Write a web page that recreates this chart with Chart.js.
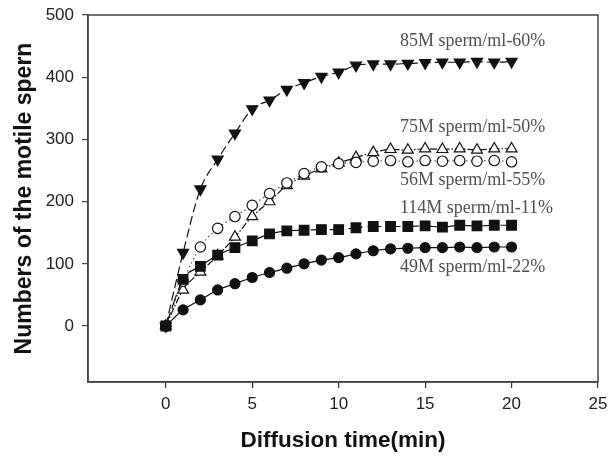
<!DOCTYPE html>
<html>
<head>
<meta charset="utf-8">
<script src="https://cdn.jsdelivr.net/npm/chart.js@4/dist/chart.umd.min.js"></script>
<style>
  html, body { margin: 0; padding: 0; background: #fff; }
  #wrap { width: 608px; height: 457px; }
</style>
</head>
<body>
<div id="wrap"><canvas id="chart"></canvas></div>
<script>
// diffusion time (min)
const times = [0, 1, 2, 3, 4, 5, 6, 7, 8, 9, 10, 11, 12, 13, 14, 15, 16, 17, 18, 19, 20];

// motile sperm counts per sample
const s85 = [0, 118, 220, 268, 310, 349, 363, 380, 391, 401, 408, 419, 421, 421, 422, 423, 424, 424, 425, 424, 425];
const s75 = [0, 58, 87, 113, 143, 176, 200, 226, 241, 253, 262, 271, 279, 284, 283, 285, 284, 285, 283, 285, 285];
const s56 = [0, 72, 127, 157, 176, 194, 213, 230, 245, 256, 261, 263, 265, 266, 264, 266, 265, 266, 265, 266, 264];
const s114 = [0, 75, 96, 114, 126, 137, 148, 153, 154, 155, 155, 158, 160, 160, 160, 161, 159, 162, 161, 162, 162];
const s49 = [0, 26, 42, 58, 68, 78, 86, 93, 100, 106, 110, 116, 121, 124, 125, 126, 126, 127, 126, 127, 127];

const seriesNames = ['85M sperm/ml-60%', '75M sperm/ml-50%', '56M sperm/ml-55%', '114M sperm/ml-11%', '49M sperm/ml-22%'];

// where each series name sits (data units: time, count at text baseline)
const labelX = [13.54, 13.54, 13.54, 13.54, 13.54];
const labelY = [450, 312, 226, 181, 87];

const xTicks = [0, 5, 10, 15, 20, 25];
const yTicks = [0, 100, 200, 300, 400, 500];

function pts(vals) {
  return times.map((t, i) => ({ x: t, y: vals[i] }));
}

const INK = '#111';

const frameBox = {
  id: 'frameBox',
  afterDraw(chart) {
    const { ctx, chartArea: a } = chart;
    ctx.save();
    ctx.strokeStyle = '#444';
    ctx.lineWidth = 1.5;
    ctx.strokeRect(a.left, a.top, a.right - a.left, a.bottom - a.top);

    // series names
    ctx.font = '18px "Liberation Serif", "DejaVu Serif", serif';
    ctx.fillStyle = '#505050';
    ctx.textBaseline = 'alphabetic';
    ctx.textAlign = 'left';
    const xs = chart.scales.x, ys = chart.scales.y;
    seriesNames.forEach((name, i) => {
      ctx.fillText(name, xs.getPixelForValue(labelX[i]), ys.getPixelForValue(labelY[i]));
    });
    ctx.restore();
  }
};

const base = {
  borderColor: INK,
  borderWidth: 1.2,
  pointBorderColor: INK,
  pointBorderWidth: 1.2,
  cubicInterpolationMode: 'monotone'
};

new Chart(document.getElementById('chart'), {
  type: 'line',
  data: {
    datasets: [
      { ...base, label: seriesNames[4], data: pts(s49), pointStyle: 'circle', pointRadius: 5,
        pointBackgroundColor: INK },
      { ...base, label: seriesNames[3], data: pts(s114), pointStyle: 'rect', pointRadius: 6.8,
        pointBackgroundColor: INK, borderDash: [14, 5] },
      { ...base, label: seriesNames[2], data: pts(s56), pointStyle: 'circle', pointRadius: 5.2,
        pointBackgroundColor: '#fff', borderColor: '#555', borderDash: [1.5, 3] },
      { ...base, label: seriesNames[1], data: pts(s75), pointStyle: 'triangle', pointRadius: 6.3,
        pointBackgroundColor: '#fff', borderDash: [7, 2, 1.5, 2] },
      { ...base, label: seriesNames[0], data: pts(s85), pointStyle: 'triangle', pointRotation: 180,
        pointRadius: 6.4, pointBackgroundColor: INK, borderDash: [9, 4] }
    ]
  },
  options: {
    responsive: true,
    maintainAspectRatio: false,
    animation: false,
    layout: { padding: { top: 15, right: 0, left: 0, bottom: 0 } },
    plugins: { legend: { display: false }, tooltip: { enabled: false } },
    scales: {
      x: {
        type: 'linear',
        min: -4.5,
        max: 25,
        afterFit(s) { s.height = 75; s.paddingRight = 10; s.paddingLeft = 0; },
        afterBuildTicks(s) { s.ticks = xTicks.map(v => ({ value: v })); },
        ticks: { color: '#222', padding: 6, font: { family: 'Liberation Sans, Arial, sans-serif', size: 17 } },
        grid: { drawOnChartArea: false, drawTicks: true, tickLength: 6, color: '#333', lineWidth: 1.2 },
        border: { display: true, color: '#333', width: 1.5 },
        title: {
          display: true,
          text: 'Diffusion time(min)',
          color: '#111',
          padding: 3,
          font: { family: 'Liberation Sans, Arial, sans-serif', size: 22.5, weight: 'bold' }
        }
      },
      y: {
        type: 'linear',
        min: -90,
        max: 500,
        afterFit(s) { s.width = 88; s.paddingTop = 0; s.paddingBottom = 0; },
        afterBuildTicks(s) { s.ticks = yTicks.map(v => ({ value: v })); },
        ticks: { color: '#222', padding: 8, font: { family: 'Liberation Sans, Arial, sans-serif', size: 17 } },
        grid: { drawOnChartArea: false, drawTicks: true, tickLength: 6, color: '#444', lineWidth: 1.2 },
        border: { display: true, color: '#444', width: 1.5 },
        title: {
          display: true,
          text: 'Numbers of the motile spern',
          color: '#111',
          padding: 11,
          font: { family: 'Liberation Sans, Arial, sans-serif', size: 23, weight: 'bold' }
        }
      }
    }
  },
  plugins: [frameBox]
});
</script>
</body>
</html>
